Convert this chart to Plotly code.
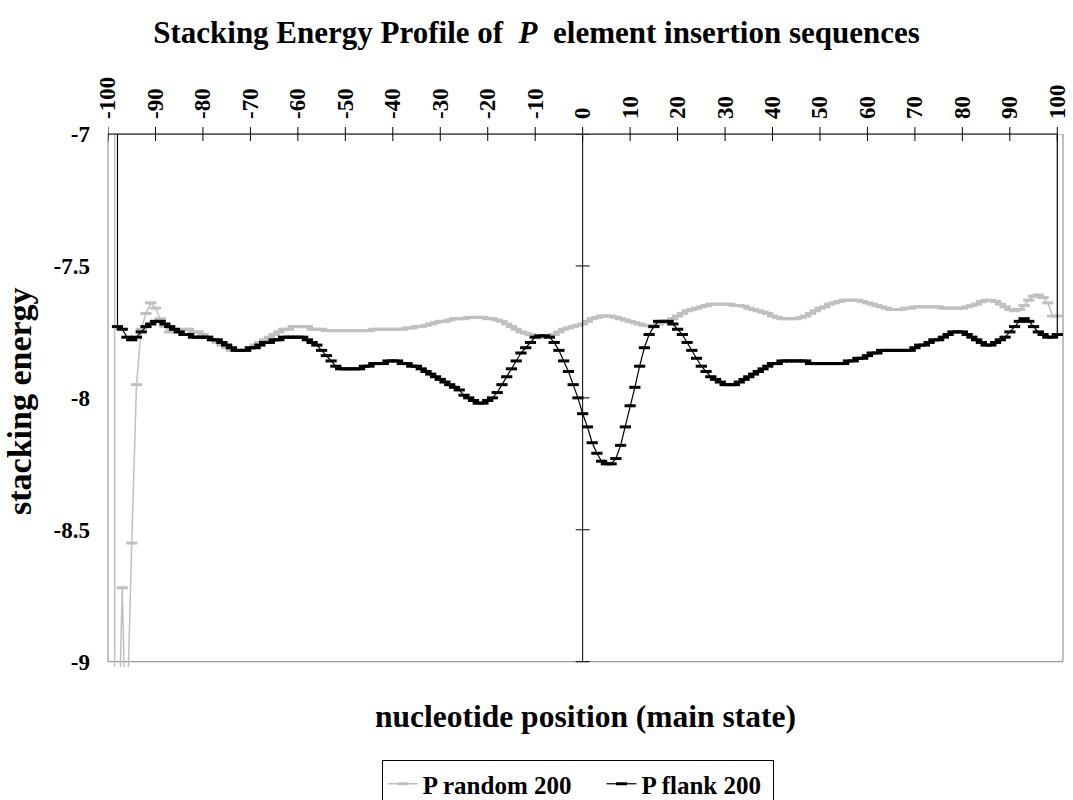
import plotly.graph_objects as go

# ---------------- data ----------------
# nucleotide positions (main state) with a value for the black series
flank_positions = list(range(-98, 101))
p_flank_200 = [
    -7.73, -7.74, -7.77, -7.78, -7.77, -7.75, -7.73, -7.72, -7.71, -7.71,   # -98..-89
    -7.72, -7.73, -7.74, -7.75, -7.76, -7.76, -7.77, -7.77, -7.77, -7.77,   # -88..-79
    -7.78, -7.78, -7.79, -7.80, -7.81, -7.82, -7.82, -7.82, -7.81, -7.81,   # -78..-69
    -7.80, -7.79, -7.79, -7.78, -7.78, -7.77, -7.77, -7.77, -7.77, -7.77,   # -68..-59
    -7.78, -7.79, -7.80, -7.82, -7.84, -7.86, -7.88, -7.89, -7.89, -7.89,   # -58..-49
    -7.89, -7.89, -7.88, -7.88, -7.87, -7.87, -7.87, -7.86, -7.86, -7.86,   # -48..-39
    -7.87, -7.87, -7.88, -7.88, -7.89, -7.90, -7.91, -7.92, -7.93, -7.94,   # -38..-29
    -7.95, -7.96, -7.97, -7.99, -8.00, -8.01, -8.02, -8.02, -8.01, -8.00,   # -28..-19
    -7.98, -7.95, -7.92, -7.89, -7.86, -7.83, -7.81, -7.79, -7.77, -7.765,  # -18..-9
    -7.765, -7.77, -7.79, -7.82, -7.86, -7.90, -7.95, -8.00, -8.06, -8.11,  # -8..1
    -8.17, -8.21, -8.24, -8.25, -8.25, -8.23, -8.18, -8.11, -8.03, -7.96,   # 2..11
    -7.88, -7.81, -7.76, -7.73, -7.71, -7.71, -7.71, -7.72, -7.74, -7.76,   # 12..21
    -7.79, -7.82, -7.85, -7.88, -7.90, -7.92, -7.93, -7.94, -7.95, -7.95,   # 22..31
    -7.95, -7.94, -7.93, -7.92, -7.91, -7.90, -7.89, -7.88, -7.87, -7.87,   # 32..41
    -7.86, -7.86, -7.86, -7.86, -7.86, -7.86, -7.87, -7.87, -7.87, -7.87,   # 42..51
    -7.87, -7.87, -7.87, -7.87, -7.86, -7.86, -7.85, -7.85, -7.84, -7.83,   # 52..61
    -7.83, -7.82, -7.82, -7.82, -7.82, -7.82, -7.82, -7.82, -7.81, -7.80,   # 62..71
    -7.80, -7.79, -7.78, -7.78, -7.77, -7.76, -7.75, -7.75, -7.75, -7.76,   # 72..81
    -7.77, -7.78, -7.79, -7.80, -7.80, -7.79, -7.78, -7.77, -7.75, -7.73,   # 82..91
    -7.71, -7.70, -7.71, -7.73, -7.75, -7.76, -7.77, -7.77, -7.76,          # 92..100
]
# off-scale end values of the flank series (line runs off the top)
flank_lead_x, flank_lead_y = [-98], [-6.9]
flank_tail_x, flank_tail_y = [100], [-6.9]

random_positions = list(range(-95, 101))
p_random_200 = [
    -8.55, -7.95, -7.74, -7.68, -7.64, -7.66, -7.70, -7.73, -7.75, -7.75,   # -95..-86
    -7.75, -7.74, -7.74, -7.75, -7.75, -7.76, -7.77, -7.78, -7.79, -7.80,   # -85..-76
    -7.81, -7.82, -7.82, -7.82, -7.82, -7.81, -7.80, -7.79, -7.78, -7.77,   # -75..-66
    -7.76, -7.75, -7.74, -7.74, -7.73, -7.73, -7.73, -7.73, -7.74, -7.74,   # -65..-56
    -7.74, -7.745, -7.745, -7.745, -7.745, -7.745, -7.745, -7.745, -7.745, -7.745,  # -55..-46
    -7.745, -7.74, -7.74, -7.74, -7.74, -7.74, -7.74, -7.74, -7.735, -7.735,  # -45..-36
    -7.73, -7.73, -7.725, -7.72, -7.715, -7.71, -7.71, -7.705, -7.70, -7.70,  # -35..-26
    -7.70, -7.695, -7.695, -7.695, -7.695, -7.70, -7.70, -7.705, -7.71, -7.72,  # -25..-16
    -7.73, -7.74, -7.75, -7.755, -7.76, -7.765, -7.77, -7.77, -7.765, -7.76,  # -15..-6
    -7.75, -7.74, -7.735, -7.73, -7.725, -7.72, -7.71, -7.70, -7.695, -7.69,  # -5..4
    -7.69, -7.69, -7.695, -7.70, -7.705, -7.71, -7.715, -7.72, -7.725, -7.727,  # 5..14
    -7.725, -7.72, -7.715, -7.71, -7.70, -7.69, -7.68, -7.67, -7.665, -7.66,  # 15..24
    -7.655, -7.65, -7.645, -7.645, -7.645, -7.645, -7.645, -7.65, -7.65, -7.653,  # 25..34
    -7.66, -7.665, -7.67, -7.675, -7.68, -7.69, -7.695, -7.70, -7.70, -7.70,  # 35..44
    -7.70, -7.695, -7.69, -7.68, -7.67, -7.66, -7.655, -7.645, -7.64, -7.635,  # 45..54
    -7.63, -7.63, -7.63, -7.63, -7.635, -7.64, -7.645, -7.65, -7.655, -7.66,  # 55..64
    -7.665, -7.665, -7.665, -7.66, -7.66, -7.655, -7.655, -7.655, -7.655, -7.655,  # 65..74
    -7.655, -7.66, -7.66, -7.66, -7.66, -7.66, -7.655, -7.65, -7.645, -7.635,  # 75..84
    -7.63, -7.63, -7.635, -7.645, -7.655, -7.665, -7.67, -7.665, -7.65, -7.63,  # 85..94
    -7.615, -7.61, -7.62, -7.64, -7.69, -7.69,                                 # 95..100
]
# off-scale start of the random series (runs off the top / bottom)
random_lead_x = [-98.6, -98.6, -97.5, -97.0, -96.5, -95.8]
random_lead_y = [-6.9, -9.1, -9.1, -8.72, -9.1, -9.1]

tick_positions = list(range(-100, 101, 10))
tick_labels = [str(v) for v in tick_positions]
value_ticks = [-7, -7.5, -8, -8.5, -9]
value_labels = ["-7", "-7.5", "-8", "-8.5", "-9"]

# ---------------- figure ----------------
FONT = "Liberation Serif, Times New Roman, serif"
GRAY = "#C0C0C0"
NB = "\u00a0"

fig = go.Figure()
fig.add_trace(go.Scatter(
    x=random_lead_x + random_positions,
    y=random_lead_y + p_random_200,
    mode="lines+markers", name="P random 200" + NB * 4,
    line=dict(color=GRAY, width=1.5),
    marker=dict(symbol="line-ew", size=8, color=GRAY, line=dict(color=GRAY, width=3)),
))
fig.add_trace(go.Scatter(
    x=flank_lead_x + flank_positions + flank_tail_x,
    y=flank_lead_y + p_flank_200 + flank_tail_y,
    mode="lines+markers", name="P flank 200" + NB,
    line=dict(color="black", width=1.2),
    marker=dict(symbol="line-ew", size=8, color="black", line=dict(color="black", width=3)),
))

shapes = []
# plot area border (gray)
shapes.append(dict(type="rect", xref="paper", yref="y", x0=0, x1=1, y0=-9, y1=-7,
                   line=dict(color="#808080", width=1), layer="below"))
# top category axis line
shapes.append(dict(type="line", xref="x", yref="paper", x0=-100, x1=100, y0=1, y1=1,
                   line=dict(color="black", width=1)))
# crossing tick marks on the top axis
for v in tick_positions:
    shapes.append(dict(type="line", xref="x", yref="paper", ysizemode="pixel", yanchor=1,
                       x0=v, x1=v, y0=-7, y1=7, line=dict(color="black", width=1)))
# value axis crossing at position 0
shapes.append(dict(type="line", xref="x", yref="y", x0=0, x1=0, y0=-9, y1=-7,
                   line=dict(color="black", width=1)))
for v in value_ticks:
    shapes.append(dict(type="line", xref="x", yref="y", xsizemode="pixel", xanchor=0,
                       x0=-7, x1=7, y0=v, y1=v, line=dict(color="black", width=1)))

fig.update_layout(
    width=1073, height=800,
    margin=dict(l=108, r=10, t=134, b=133, pad=0, autoexpand=False),
    paper_bgcolor="white", plot_bgcolor="white",
    font=dict(family=FONT, color="black"),
    title=dict(text="Stacking Energy Profile of \u00a0<i>P</i>\u00a0 element insertion sequences",
               x=0.5, xanchor="center", xref="container", y=1 - 32 / 800, yanchor="middle",
               font=dict(family=FONT, size=31, weight="bold")),
    xaxis=dict(range=[-100, 101.2], side="top", tickmode="array", tickvals=tick_positions,
               ticktext=tick_labels, tickangle=-90, ticks="", showgrid=False, zeroline=False,
               showline=False, ticklabelstandoff=14,
               tickfont=dict(family=FONT, size=23, weight="bold")),
    yaxis=dict(range=[-9.02, -7], tickmode="array", tickvals=value_ticks, ticktext=value_labels,
               ticks="", showgrid=False, zeroline=False, showline=False, ticklabelstandoff=17,
               tickfont=dict(family=FONT, size=23, weight="bold")),
    legend=dict(orientation="h", x=0.492, xanchor="center", y=-0.1745, yanchor="top",
                bordercolor="black", borderwidth=1, bgcolor="white",
                font=dict(family=FONT, size=25, weight="bold"), itemwidth=30,
                traceorder="normal"),
    shapes=shapes,
    annotations=[
        dict(text="nucleotide position (main state)", xref="paper", yref="paper", x=0.5,
             y=-0.092, xanchor="center", yanchor="middle", showarrow=False,
             font=dict(family=FONT, size=31.5, weight="bold")),
        dict(text="stacking energy", xref="paper", yref="paper", x=-0.0927, y=0.5,
             xanchor="center", yanchor="middle", textangle=-90, showarrow=False,
             font=dict(family=FONT, size=34, weight="bold")),
    ],
)

fig.write_html("out.html")
